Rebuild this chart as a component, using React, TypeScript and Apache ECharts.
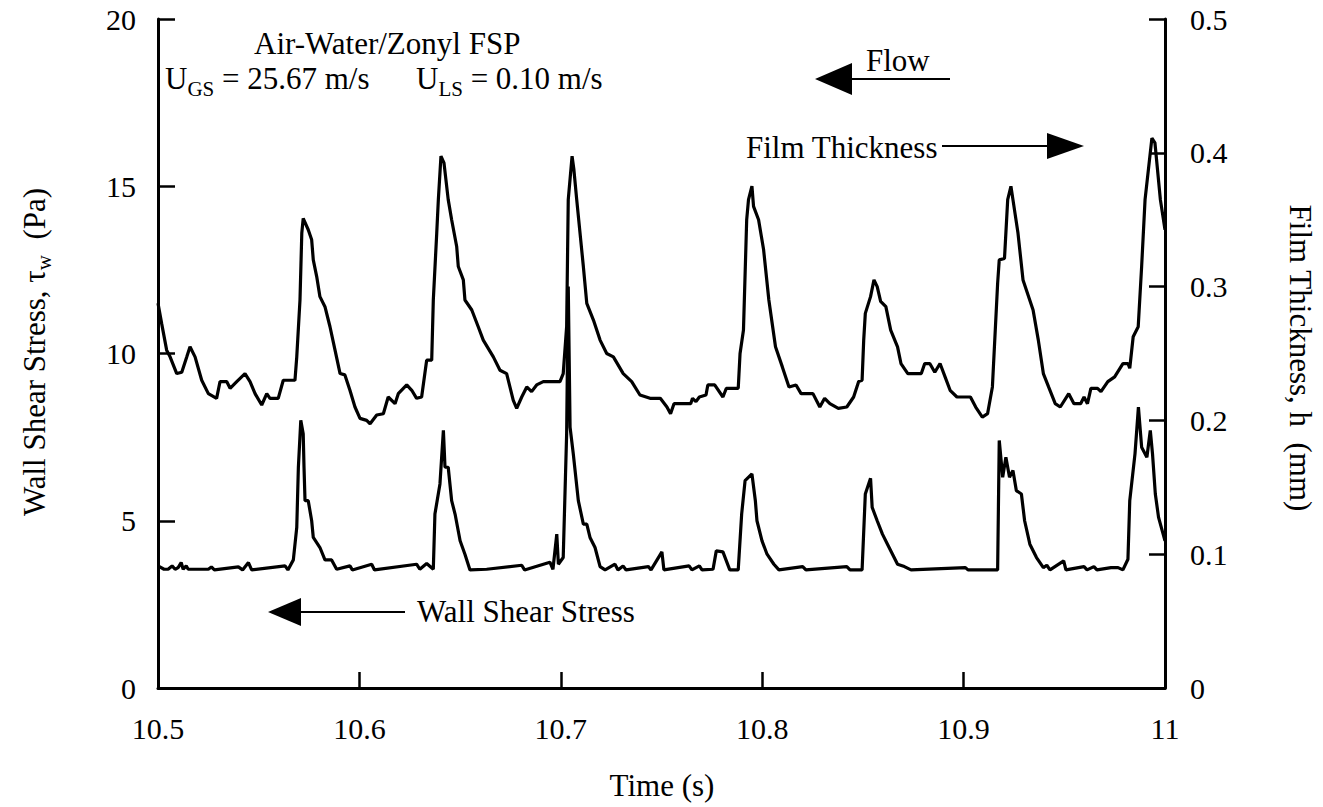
import React, { useEffect, useRef } from "react";
import * as echarts from "echarts";

// Film thickness (upper trace, right axis, mm)
const filmTime = [
  10.5, 10.5018, 10.5043, 10.506, 10.5093, 10.5118, 10.5143, 10.5159, 10.5184, 10.5217,
  10.525, 10.5291, 10.5308, 10.5341, 10.5358, 10.5391, 10.5432, 10.5457, 10.5482, 10.5515,
  10.554, 10.5556, 10.5597, 10.5622, 10.568, 10.5689, 10.5705, 10.5714, 10.5721, 10.5746,
  10.5763, 10.5771, 10.5788, 10.5804, 10.5829, 10.5854, 10.5879, 10.5904, 10.5928, 10.5953,
  10.5978, 10.6003, 10.6036, 10.6053, 10.6086, 10.6119, 10.6143, 10.6177, 10.6193, 10.6235,
  10.626, 10.6284, 10.6309, 10.6334, 10.6359, 10.6367, 10.6384, 10.6392, 10.6405, 10.642,
  10.6441, 10.6458, 10.6483, 10.6491, 10.6516, 10.6524, 10.6558, 10.659, 10.6615, 10.6665,
  10.6698, 10.6731, 10.6764, 10.6781, 10.6806, 10.6831, 10.6855, 10.688, 10.6913, 10.6996,
  10.7012, 10.7029, 10.7037, 10.7056, 10.7065, 10.7079, 10.7112, 10.7129, 10.7162, 10.7195,
  10.7228, 10.7261, 10.731, 10.7352, 10.7393, 10.7443, 10.7494, 10.7527, 10.7545, 10.7562,
  10.7645, 10.7654, 10.7671, 10.7688, 10.7721, 10.773, 10.7764, 10.7805, 10.7822, 10.7881,
  10.789, 10.7907, 10.7923, 10.7932, 10.7949, 10.7957, 10.7982, 10.8007, 10.8033, 10.8066,
  10.81, 10.8133, 10.8168, 10.8193, 10.8252, 10.8286, 10.831, 10.8336, 10.8378, 10.842,
  10.8454, 10.8479, 10.8496, 10.8504, 10.8512, 10.8538, 10.8555, 10.8571, 10.8588, 10.8614,
  10.8638, 10.8672, 10.8689, 10.8723, 10.879, 10.8807, 10.8832, 10.8857, 10.8883, 10.8908,
  10.8933, 10.8967, 10.9034, 10.906, 10.9093, 10.9119, 10.9143, 10.9169, 10.9177, 10.9203,
  10.9219, 10.9235, 10.9245, 10.927, 10.9295, 10.9345, 10.9371, 10.9396, 10.9422, 10.9455,
  10.948, 10.9522, 10.9548, 10.9581, 10.9598, 10.9615, 10.9632, 10.9665, 10.9682, 10.9716,
  10.975, 10.9791, 10.9816, 10.9825, 10.9842, 10.9867, 10.9884, 10.9901, 10.9935, 10.995,
  10.9977, 11.0,
];
const filmMM = [
  0.2875, 0.2725, 0.2525, 0.2475, 0.235, 0.236, 0.2475, 0.255, 0.2475, 0.23,
  0.22, 0.2165, 0.229, 0.229, 0.224, 0.229, 0.235, 0.229, 0.22, 0.2115,
  0.22, 0.2165, 0.2165, 0.23, 0.23, 0.2475, 0.29, 0.34, 0.351, 0.3425,
  0.335, 0.32, 0.3075, 0.2925, 0.285, 0.27, 0.2525, 0.235, 0.234, 0.2225,
  0.21, 0.2015, 0.2, 0.1975, 0.204, 0.205, 0.2175, 0.2125, 0.22, 0.2265,
  0.2225, 0.2165, 0.2175, 0.245, 0.245, 0.29, 0.34, 0.365, 0.3975, 0.3925,
  0.365, 0.35, 0.33, 0.315, 0.305, 0.29, 0.2825, 0.27, 0.26, 0.2475,
  0.2375, 0.235, 0.215, 0.209, 0.2175, 0.225, 0.2215, 0.2265, 0.229, 0.229,
  0.235, 0.27, 0.365, 0.3975, 0.3875, 0.365, 0.315, 0.2875, 0.275, 0.26,
  0.25, 0.2475, 0.235, 0.229, 0.219, 0.2165, 0.2165, 0.21, 0.205, 0.2125,
  0.2125, 0.2165, 0.214, 0.2175, 0.219, 0.2265, 0.2265, 0.2175, 0.224, 0.224,
  0.25, 0.2675, 0.35, 0.365, 0.375, 0.36, 0.35, 0.3275, 0.29, 0.255,
  0.24, 0.225, 0.2265, 0.22, 0.22, 0.21, 0.2165, 0.2125, 0.209, 0.21,
  0.2175, 0.229, 0.23, 0.26, 0.28, 0.2925, 0.305, 0.3, 0.289, 0.285,
  0.2675, 0.255, 0.2425, 0.235, 0.235, 0.2425, 0.2425, 0.236, 0.2425, 0.2325,
  0.2225, 0.2175, 0.2175, 0.21, 0.2025, 0.205, 0.225, 0.3025, 0.32, 0.321,
  0.365, 0.375, 0.365, 0.34, 0.305, 0.2825, 0.26, 0.235, 0.225, 0.2125,
  0.21, 0.22, 0.2125, 0.2125, 0.2175, 0.2125, 0.224, 0.224, 0.2215, 0.229,
  0.2325, 0.2425, 0.2425, 0.239, 0.2625, 0.27, 0.315, 0.365, 0.411, 0.4075,
  0.365, 0.3425,
];

// Wall shear stress (lower trace, left axis, Pa)
const shearTime = [
  10.5, 10.503, 10.505, 10.507, 10.5085, 10.51, 10.5115, 10.5125, 10.514, 10.515,
  10.525, 10.5265, 10.528, 10.5399, 10.542, 10.5449, 10.5465, 10.5631, 10.5645, 10.5672,
  10.5689, 10.5697, 10.5709, 10.5721, 10.5725, 10.573, 10.5746, 10.5763, 10.5771, 10.5804,
  10.5829, 10.5862, 10.5887, 10.5953, 10.5965, 10.6061, 10.6075, 10.6284, 10.63, 10.6334,
  10.6367, 10.6375, 10.64, 10.6417, 10.6425, 10.6441, 10.6458, 10.6475, 10.65, 10.6524,
  10.6549, 10.6632, 10.6806, 10.682, 10.6946, 10.6961, 10.698, 10.6988, 10.7012, 10.7029,
  10.7037, 10.7046, 10.7062, 10.7087, 10.7112, 10.7129, 10.7145, 10.717, 10.7195, 10.722,
  10.7269, 10.7284, 10.7309, 10.7324, 10.7435, 10.7448, 10.7502, 10.7512, 10.7637, 10.7651,
  10.7688, 10.7701, 10.7756, 10.7772, 10.7805, 10.7839, 10.7881, 10.7898, 10.7915, 10.7949,
  10.7966, 10.7974, 10.7999, 10.8024, 10.8058, 10.8083, 10.8201, 10.8217, 10.842, 10.8436,
  10.8496, 10.8512, 10.8538, 10.8546, 10.8571, 10.8597, 10.8622, 10.8672, 10.8706, 10.8739,
  10.9009, 10.9022, 10.9169, 10.9177, 10.9194, 10.921, 10.9228, 10.9245, 10.9262, 10.9287,
  10.9303, 10.9329, 10.9362, 10.9396, 10.9413, 10.9429, 10.9497, 10.9508, 10.9598, 10.9613,
  10.9647, 10.9662, 10.9732, 10.9767, 10.9791, 10.9816, 10.9825, 10.9851, 10.9868, 10.9884,
  10.991, 10.9927, 10.9938, 10.9952, 10.9968, 11.0,
];
const shearPa = [
  3.65, 3.55, 3.55, 3.65, 3.55, 3.6, 3.75, 3.55, 3.65, 3.55,
  3.55, 3.62, 3.53, 3.62, 3.53, 3.75, 3.53, 3.65, 3.53, 3.83,
  4.8, 6.6, 8.0, 7.6, 6.6, 5.6, 5.6, 5.0, 4.5, 4.2,
  3.83, 3.83, 3.55, 3.65, 3.53, 3.7, 3.53, 3.7, 3.55, 3.72,
  3.55, 5.2, 6.1, 7.7, 6.6, 6.6, 5.6, 5.2, 4.4, 4.0,
  3.53, 3.55, 3.67, 3.53, 3.76, 3.55, 4.6, 3.7, 3.9, 7.6,
  12.0, 7.8, 7.0, 5.6, 4.9, 4.9, 4.5, 4.2, 3.63, 3.53,
  3.7, 3.53, 3.65, 3.53, 3.63, 3.53, 4.07, 3.53, 3.65, 3.53,
  3.65, 3.53, 3.55, 4.1, 4.07, 3.53, 3.53, 5.2, 6.2, 6.4,
  5.6, 5.0, 4.4, 4.0, 3.7, 3.53, 3.63, 3.53, 3.63, 3.53,
  3.53, 5.8, 6.27, 5.4, 5.0, 4.6, 4.3, 3.7, 3.63, 3.53,
  3.6, 3.53, 3.53, 7.4, 6.3, 6.9, 6.3, 6.5, 5.9, 5.8,
  5.0, 4.3, 3.9, 3.6, 3.67, 3.53, 3.8, 3.53, 3.63, 3.53,
  3.63, 3.53, 3.6, 3.6, 3.53, 3.85, 5.6, 7.0, 8.4, 7.2,
  6.9, 7.7, 7.0, 5.8, 5.1, 4.4,
];

const xTicks = [10.5, 10.6, 10.7, 10.8, 10.9, 11];

const FONT = "'Liberation Serif', 'Times New Roman', serif";
const FS = 31;
const TICK_FS = 30;

export default function App() {
  const ref = useRef<HTMLDivElement>(null);

  useEffect(() => {
    if (!ref.current) return;
    const chart = echarts.init(ref.current, null, { renderer: "svg" });

    const txt = { fontFamily: FONT, fontSize: FS, fill: "#000" };
    const rich = {
      n: { fontFamily: FONT, fontSize: FS, lineHeight: FS, verticalAlign: "top", color: "#000" },
      s: {
        fontFamily: FONT,
        fontSize: 21,
        lineHeight: 21,
        padding: [15, 0, 0, 0],
        verticalAlign: "top",
        color: "#000",
      },
    };

    const option: any = {
      animation: false,
      backgroundColor: "#fff",
      grid: { left: 158, right: 158, top: 19, bottom: 119, containLabel: false },
      xAxis: [
        {
          type: "value",
          min: xTicks[0],
          max: xTicks[xTicks.length - 1],
          interval: 0.1,
          axisLine: { show: true, lineStyle: { color: "#000", width: 3 } },
          axisTick: { show: true, inside: true, length: 16, lineStyle: { color: "#000", width: 2.5 } },
          axisLabel: {
            color: "#000",
            fontFamily: FONT,
            fontSize: TICK_FS,
            margin: 25,
            formatter: (v: number) => String(Math.round(v * 10) / 10),
          },
          splitLine: { show: false },
        },
        {
          type: "value",
          position: "top",
          min: xTicks[0],
          max: xTicks[xTicks.length - 1],
          axisLine: { show: true, lineStyle: { color: "#000", width: 2 } },
          axisTick: { show: false },
          axisLabel: { show: false },
          splitLine: { show: false },
        },
      ],
      yAxis: [
        {
          type: "value",
          min: 0,
          max: 20,
          interval: 5,
          axisLine: { show: true, lineStyle: { color: "#000", width: 3 } },
          axisTick: { show: true, inside: true, length: 17, lineStyle: { color: "#000", width: 2.5 } },
          axisLabel: { color: "#000", fontFamily: FONT, fontSize: TICK_FS, margin: 22 },
          splitLine: { show: false },
        },
        {
          type: "value",
          min: 0,
          max: 0.5,
          interval: 0.1,
          position: "right",
          axisLine: { show: true, lineStyle: { color: "#000", width: 3 } },
          axisTick: { show: true, inside: true, length: 16, lineStyle: { color: "#000", width: 2.5 } },
          axisLabel: { color: "#000", fontFamily: FONT, fontSize: TICK_FS, margin: 25 },
          splitLine: { show: false },
        },
      ],
      series: [
        {
          name: "Film Thickness",
          type: "line",
          yAxisIndex: 1,
          showSymbol: false,
          lineStyle: { color: "#000", width: 3.2 },
          data: filmTime.map((t, i) => [t, filmMM[i]]),
        },
        {
          name: "Wall Shear Stress",
          type: "line",
          yAxisIndex: 0,
          showSymbol: false,
          lineStyle: { color: "#000", width: 3.2 },
          data: shearTime.map((t, i) => [t, shearPa[i]]),
        },
      ],
      graphic: [
        { type: "text", x: 254, y: 43, style: { ...txt, text: "Air-Water/Zonyl FSP", align: "left", verticalAlign: "middle" } },
        {
          type: "text",
          x: 165,
          y: 63,
          style: { text: "{n|U}{s|GS}{n| = 25.67 m/s}", rich, align: "left", verticalAlign: "top" },
        },
        {
          type: "text",
          x: 416,
          y: 63,
          style: { text: "{n|U}{s|LS}{n| = 0.10 m/s}", rich, align: "left", verticalAlign: "top" },
        },
        { type: "text", x: 866, y: 60, style: { ...txt, text: "Flow", align: "left", verticalAlign: "middle" } },
        { type: "line", shape: { x1: 848, y1: 79, x2: 950, y2: 79 }, style: { stroke: "#000", lineWidth: 2 } },
        { type: "polygon", shape: { points: [[815, 79], [852, 63], [852, 95]] }, style: { fill: "#000" } },
        { type: "text", x: 746, y: 147, style: { ...txt, text: "Film Thickness", align: "left", verticalAlign: "middle" } },
        { type: "line", shape: { x1: 942, y1: 146, x2: 1050, y2: 146 }, style: { stroke: "#000", lineWidth: 2 } },
        { type: "polygon", shape: { points: [[1084, 146], [1047, 133], [1047, 159]] }, style: { fill: "#000" } },
        { type: "text", x: 417, y: 611, style: { ...txt, text: "Wall Shear Stress", align: "left", verticalAlign: "middle" } },
        { type: "line", shape: { x1: 297, y1: 612, x2: 405, y2: 612 }, style: { stroke: "#000", lineWidth: 2 } },
        { type: "polygon", shape: { points: [[268, 612], [301, 598], [301, 626]] }, style: { fill: "#000" } },
        { type: "text", x: 662, y: 785, style: { ...txt, text: "Time (s)", align: "center", verticalAlign: "middle" } },
        {
          type: "text",
          x: 34,
          y: 352,
          rotation: Math.PI / 2,
          style: {
            text: "{n|Wall Shear Stress, τ}{s|w}{n|  (Pa)}",
            rich,
            align: "center",
            verticalAlign: "middle",
          },
        },
        {
          type: "text",
          x: 1300,
          y: 358,
          rotation: -Math.PI / 2,
          style: { ...txt, text: "Film Thickness, h  (mm)", align: "center", verticalAlign: "middle" },
        },
      ],
    };

    chart.setOption(option);
    return () => chart.dispose();
  }, []);

  return (
    <div
      ref={ref}
      style={{ position: "absolute", left: 0, top: 0, width: 1323, height: 807 }}
    />
  );
}
